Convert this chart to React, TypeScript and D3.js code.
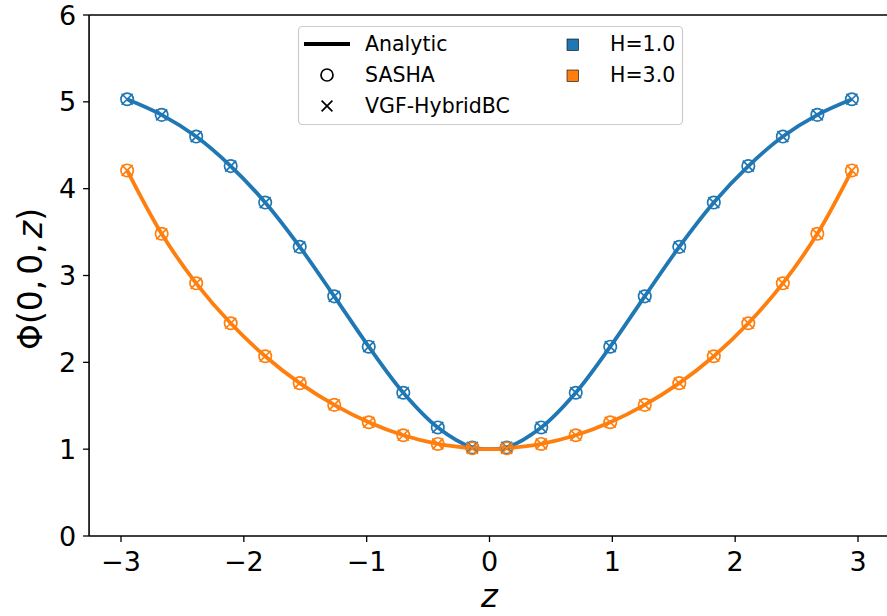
import React from "react";
import * as d3 from "d3";

const zPoints = [-2.95, -2.669, -2.388, -2.107, -1.826, -1.545, -1.264, -0.983, -0.702, -0.421, -0.14, 0.14, 0.421, 0.702, 0.983, 1.264, 1.545, 1.826, 2.107, 2.388, 2.669, 2.95];
const phiH1 = [5.03, 4.85, 4.6, 4.26, 3.84, 3.33, 2.76, 2.18, 1.65, 1.25, 1.02, 1.02, 1.25, 1.65, 2.18, 2.76, 3.33, 3.84, 4.26, 4.6, 4.85, 5.03];
const phiH3 = [4.21, 3.48, 2.91, 2.45, 2.07, 1.76, 1.51, 1.31, 1.16, 1.06, 1.01, 1.01, 1.06, 1.16, 1.31, 1.51, 1.76, 2.07, 2.45, 2.91, 3.48, 4.21];
// analytic curve samples (marker positions plus the centre)
const zAnalytic = [-2.95, -2.669, -2.388, -2.107, -1.826, -1.545, -1.264, -0.983, -0.702, -0.421, -0.14, 0, 0.14, 0.421, 0.702, 0.983, 1.264, 1.545, 1.826, 2.107, 2.388, 2.669, 2.95];
const analyticH1 = [5.03, 4.85, 4.6, 4.26, 3.84, 3.33, 2.76, 2.18, 1.65, 1.25, 1.02, 1.0, 1.02, 1.25, 1.65, 2.18, 2.76, 3.33, 3.84, 4.26, 4.6, 4.85, 5.03];
const analyticH3 = [4.21, 3.48, 2.91, 2.45, 2.07, 1.76, 1.51, 1.31, 1.16, 1.06, 1.01, 1.0, 1.01, 1.06, 1.16, 1.31, 1.51, 1.76, 2.07, 2.45, 2.91, 3.48, 4.21];
const xTicks = [-3, -2, -1, 0, 1, 2, 3];
const yTicks = [0, 1, 2, 3, 4, 5, 6];
const seriesLabels = ["H=1.0", "H=3.0"];
const methodLabels = ["Analytic", "SASHA", "VGF-HybridBC"];

const W = 887;
const H = 616;
const BLUE = "#1f77b4";
const ORANGE = "#ff7f0e";
const FONT = "DejaVu Sans, sans-serif";

export default function App() {
  const x = d3.scaleLinear().domain([-3, 3]).range([121, 858]);
  const y = d3.scaleLinear().domain([0, 6]).range([536, 15]);
  const x0 = x(-3.26);
  const x1 = x(3.26);

  const line = d3
    .line<[number, number]>()
    .x((d) => x(d[0]))
    .y((d) => y(d[1]))
    .curve(d3.curveCatmullRom.alpha(0.5));

  const series = [
    { color: BLUE, pts: phiH1, an: analyticH1 },
    { color: ORANGE, pts: phiH3, an: analyticH3 },
  ];

  const cross = (cx: number, cy: number, s: number) =>
    `M${cx - s},${cy - s}L${cx + s},${cy + s}M${cx - s},${cy + s}L${cx + s},${cy - s}`;

  return (
    <svg width={W} height={H} style={{ position: "absolute", left: 0, top: 0, background: "#fff" }}>
      <defs>
        <clipPath id="plotClip">
          <rect x={x0} y={y(6)} width={x1 - x0} height={y(0) - y(6)} />
        </clipPath>
      </defs>
      <g clipPath="url(#plotClip)">
        {series.map((s, i) => (
          <path
            key={"l" + i}
            d={line(zAnalytic.map((z, k) => [z, s.an[k]]))!}
            fill="none"
            stroke={s.color}
            strokeWidth={3.8}
          />
        ))}
        {series.map((s, i) =>
          zPoints.map((z, k) => (
            <circle
              key={"c" + i + "-" + k}
              cx={x(z)}
              cy={y(s.pts[k])}
              r={6.2}
              fill="none"
              stroke={s.color}
              strokeWidth={1.7}
            />
          ))
        )}
        {series.map((s, i) =>
          zPoints.map((z, k) => (
            <path
              key={"x" + i + "-" + k}
              d={cross(x(z), y(s.pts[k]), 5.5)}
              fill="none"
              stroke={s.color}
              strokeWidth={1.7}
            />
          ))
        )}
      </g>
      {/* spines */}
      <line x1={x0} y1={y(0)} x2={x1} y2={y(0)} stroke="#000" strokeWidth={1.6} />
      <line x1={x0} y1={y(0)} x2={x0} y2={y(6)} stroke="#000" strokeWidth={1.6} />
      <line x1={x0} y1={y(6)} x2={x1} y2={y(6)} stroke="#000" strokeWidth={1.6} />
      <line x1={x1} y1={y(0)} x2={x1} y2={y(6)} stroke="#000" strokeWidth={1.6} />
      {/* x ticks */}
      {xTicks.map((t) => (
        <g key={"xt" + t}>
          <line x1={x(t)} x2={x(t)} y1={y(0)} y2={y(0) + 6} stroke="#000" strokeWidth={1.3} />
          <text x={x(t)} y={571} textAnchor="middle" fontFamily={FONT} fontSize={27} fill="#000">
            {t < 0 ? "\u2212" + Math.abs(t) : String(t)}
          </text>
        </g>
      ))}
      {yTicks.map((t) => (
        <g key={"yt" + t}>
          <line x1={x0} x2={x0 - 6} y1={y(t)} y2={y(t)} stroke="#000" strokeWidth={1.3} />
          <text x={x0 - 13} y={y(t) + 9.6} textAnchor="end" fontFamily={FONT} fontSize={27} fill="#000">
            {String(t)}
          </text>
        </g>
      ))}
      {/* axis labels */}
      <text x={x(0)} y={607} textAnchor="middle" fontFamily={FONT} fontSize={32} fontStyle="italic" fill="#000">
        z
      </text>
      <text
        transform={`translate(${42},${279}) rotate(-90)`}
        textAnchor="middle"
        fontFamily={FONT}
        fontSize={33}
        fill="#000"
      >
        Φ(0,<tspan dx={5}>0,</tspan><tspan dx={5} fontStyle="italic">z</tspan>)
      </text>
      {/* legend */}
      <g>
        <rect x={298.5} y={26.5} width={384} height={98} rx={4} fill="#fff" fillOpacity={0.8} stroke="#cccccc" strokeWidth={1.2} />
        <line x1={304} x2={350} y1={44} y2={44} stroke="#000" strokeWidth={3.8} />
        <circle cx={327} cy={75} r={6} fill="none" stroke="#000" strokeWidth={1.7} />
        <path d={cross(327, 106, 5.4)} stroke="#000" strokeWidth={1.7} fill="none" />
        {methodLabels.map((m, i) => (
          <text key={m} x={365} y={51 + i * 31} fontFamily={FONT} fontSize={20.5} fill="#000">
            {m}
          </text>
        ))}
        {seriesLabels.map((l, i) => (
          <g key={l}>
            <rect x={567} y={39 + i * 31} width={11.5} height={11.5} fill={i === 0 ? BLUE : ORANGE} stroke="#000" strokeWidth={0.6} />
            <text x={610} y={51 + i * 31} fontFamily={FONT} fontSize={20.5} fill="#000">
              {l}
            </text>
          </g>
        ))}
      </g>
    </svg>
  );
}
